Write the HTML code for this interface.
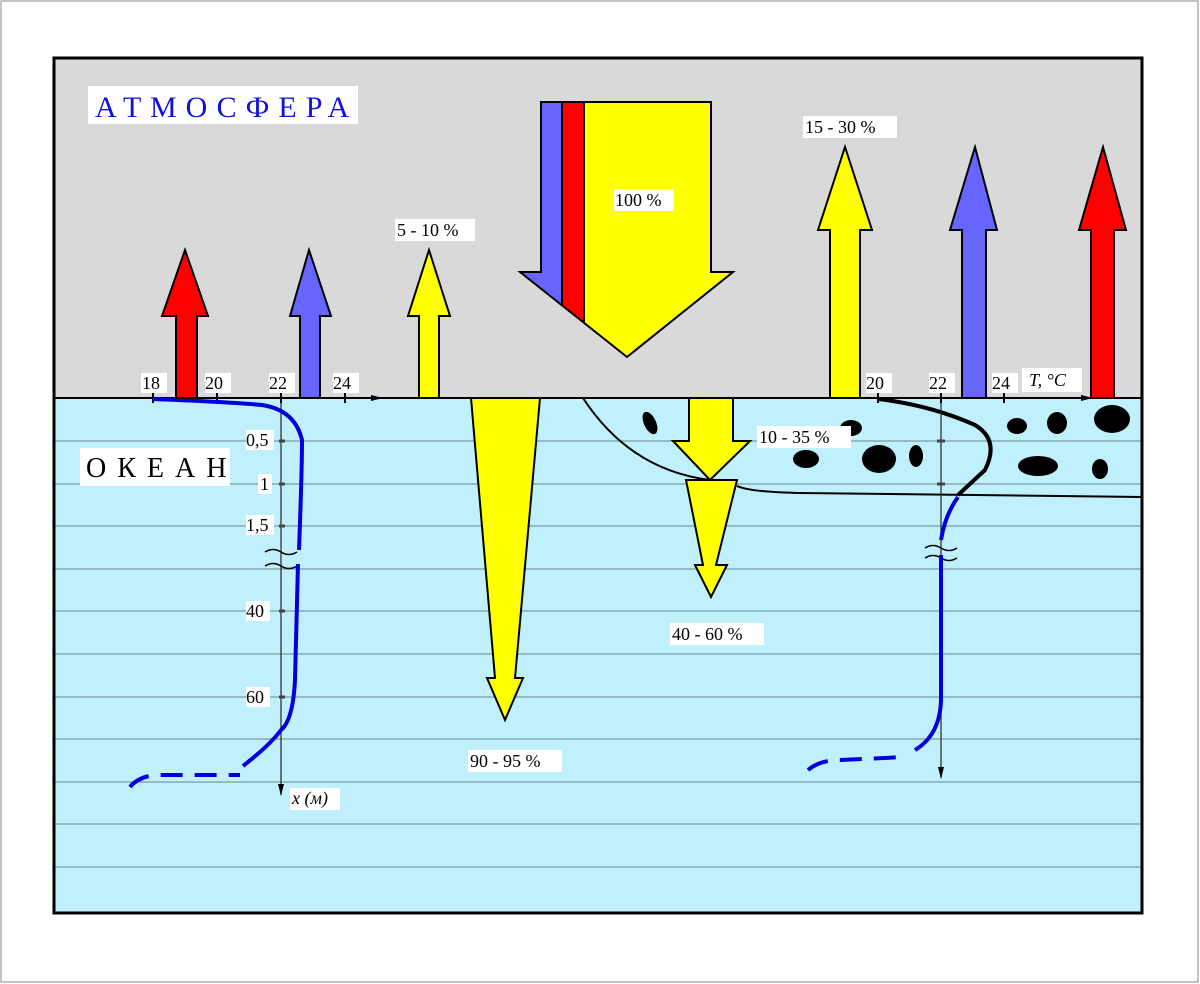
<!DOCTYPE html>
<html><head><meta charset="utf-8"><style>
html,body{margin:0;padding:0;background:#fff;}
svg{display:block;}
text{font-family:"Liberation Serif",serif;}
</style></head><body>
<svg width="1200" height="984" viewBox="0 0 1200 984" xmlns="http://www.w3.org/2000/svg">
<defs>
<clipPath id="bigArrow"><polygon points="541,102 711,102 711,272 733,272 627,357 520,272 541,272"/></clipPath>
<marker id="ah" markerWidth="12" markerHeight="8" refX="11" refY="4" orient="auto" markerUnits="userSpaceOnUse"><polygon points="0,1 12,4 0,7" fill="#000"/></marker>
</defs>
<rect x="1" y="1" width="1197" height="981" fill="#fff" stroke="#888" stroke-width="1"/>
<rect x="54" y="58" width="1088" height="340" fill="#d9d9d9"/>
<rect x="54" y="398" width="1088" height="515" fill="#bff0fb"/>
<g stroke="#7a9aa0" stroke-width="1.3">
<line x1="54" y1="441" x2="1142" y2="441"/><line x1="54" y1="484" x2="1142" y2="484"/>
<line x1="54" y1="526" x2="1142" y2="526"/><line x1="54" y1="569" x2="1142" y2="569"/>
<line x1="54" y1="611" x2="1142" y2="611"/><line x1="54" y1="654" x2="1142" y2="654"/>
<line x1="54" y1="697" x2="1142" y2="697"/><line x1="54" y1="739" x2="1142" y2="739"/>
<line x1="54" y1="782" x2="1142" y2="782"/><line x1="54" y1="824" x2="1142" y2="824"/>
<line x1="54" y1="867" x2="1142" y2="867"/>
</g>
<line x1="54" y1="398" x2="1142" y2="398" stroke="#000" stroke-width="2"/>

<g fill="#000">
<ellipse cx="650" cy="423" rx="6" ry="12" transform="rotate(-25 650 423)"/>
<ellipse cx="806" cy="459" rx="13" ry="9"/>
<ellipse cx="851" cy="428" rx="11" ry="8"/>
<ellipse cx="879" cy="459" rx="17" ry="14"/>
<ellipse cx="916" cy="456" rx="7" ry="11"/>
<ellipse cx="1017" cy="426" rx="10" ry="8"/>
<ellipse cx="1057" cy="423" rx="10" ry="11"/>
<ellipse cx="1112" cy="419" rx="18" ry="14"/>
<ellipse cx="1038" cy="466" rx="20" ry="10"/>
<ellipse cx="1100" cy="469" rx="8" ry="10"/>
</g>

<path d="M583,398 Q630,470 710,480" fill="none" stroke="#000" stroke-width="2"/>
<path d="M737,486 Q750,492 800,493 L1142,497" fill="none" stroke="#000" stroke-width="2"/>
<path d="M878,399 Q930,405 975,425 Q1000,440 985,470 Q972,482 958,495" fill="none" stroke="#000" stroke-width="4"/>

<line x1="153" y1="398" x2="382" y2="398" stroke="#000" stroke-width="1.5" marker-end="url(#ah)"/>
<line x1="878" y1="398" x2="1092" y2="398" stroke="#000" stroke-width="1.5" marker-end="url(#ah)"/>
<line x1="281" y1="398" x2="281" y2="795" stroke="#333" stroke-width="1.3" marker-end="url(#ah)"/>
<line x1="941" y1="398" x2="941" y2="778" stroke="#333" stroke-width="1.3" marker-end="url(#ah)"/>
<g stroke="#000" stroke-width="2">
<line x1="153" y1="393" x2="153" y2="403"/><line x1="217" y1="393" x2="217" y2="403"/>
<line x1="281" y1="393" x2="281" y2="403"/><line x1="345" y1="393" x2="345" y2="403"/>
<line x1="878" y1="393" x2="878" y2="403"/><line x1="941" y1="393" x2="941" y2="403"/><line x1="1004" y1="393" x2="1004" y2="403"/>
</g>
<g stroke="#444" stroke-width="3">
<line x1="279" y1="441" x2="285" y2="441"/><line x1="279" y1="484" x2="285" y2="484"/><line x1="279" y1="526" x2="285" y2="526"/>
<line x1="279" y1="611" x2="285" y2="611"/><line x1="279" y1="697" x2="285" y2="697"/>
<line x1="937" y1="441" x2="945" y2="441"/><line x1="937" y1="484" x2="945" y2="484"/>
</g>
<g fill="none" stroke="#000" stroke-width="1.5">
<path d="M265,552 q8,-5 16,0 q8,5 16,0"/><path d="M265,566 q8,-5 16,0 q8,5 16,0"/>
<path d="M925,548 q8,-5 16,0 q8,5 16,0"/><path d="M925,558 q8,-5 16,0 q8,5 16,0"/>
</g>

<path d="M153,399 Q230,402 262,405 Q295,410 302,440 Q302,470 299,550" fill="none" stroke="#0000dd" stroke-width="4"/>
<path d="M298,564 L295,680 Q293,720 281,730 Q270,745 243,766" fill="none" stroke="#0000dd" stroke-width="4"/>
<path d="M130,787 Q140,775 160,775 L240,775" fill="none" stroke="#0000dd" stroke-width="4" stroke-dasharray="22,12"/>
<path d="M958,497 Q945,515 941,540" fill="none" stroke="#0000dd" stroke-width="4"/>
<path d="M941,555 L941,700 Q940,735 915,750" fill="none" stroke="#0000dd" stroke-width="4"/>
<path d="M808,770 Q820,760 840,760 L905,757" fill="none" stroke="#0000dd" stroke-width="4" stroke-dasharray="22,12"/>

<g stroke="#000" stroke-width="2">
<polygon points="176,398 176,316 162,316 185,250 208,316 197,316 197,398" fill="#ff0000"/>
<polygon points="300,398 300,316 290,316 309,250 331,316 320,316 320,398" fill="#6666ff"/>
<polygon points="419,398 419,316 408,316 429,250 450,316 439,316 439,398" fill="#ffff00"/>
<polygon points="830,398 830,230 818,230 845,147 872,230 860,230 860,398" fill="#ffff00"/>
<polygon points="962,398 962,230 950,230 975,147 997,230 986,230 986,398" fill="#6666ff"/>
<polygon points="1091,398 1091,230 1079,230 1103,147 1126,230 1114,230 1114,398" fill="#ff0000"/>
</g>
<g clip-path="url(#bigArrow)">
<rect x="500" y="90" width="260" height="280" fill="#ffff00"/>
<rect x="500" y="90" width="62" height="280" fill="#6666ff"/>
<rect x="562" y="90" width="22" height="280" fill="#ff0000"/>
</g>
<polygon points="541,102 711,102 711,272 733,272 627,357 520,272 541,272" fill="none" stroke="#000" stroke-width="2"/>
<line x1="562" y1="102" x2="562" y2="305" stroke="#000" stroke-width="2"/>
<line x1="584" y1="102" x2="584" y2="322" stroke="#000" stroke-width="2"/>
<g stroke="#000" stroke-width="2" fill="#ffff00">
<polygon points="471,398 540,398 515,678 523,678 505,720 487,678 495,678"/>
<polygon points="689,398 733,398 733,441 750,441 710,480 673,441 689,441"/>
<polygon points="686,480 737,480 716,565 727,565 711,597 695,565 703,565"/>
</g>

<g font-size="18" fill="#000">
<rect x="141" y="373" width="26" height="20" fill="#fff"/><text x="142" y="389">18</text>
<rect x="205" y="373" width="26" height="20" fill="#fff"/><text x="205" y="389">20</text>
<rect x="269" y="373" width="26" height="20" fill="#fff"/><text x="269" y="389">22</text>
<rect x="333" y="373" width="26" height="20" fill="#fff"/><text x="333" y="389">24</text>
<rect x="866" y="373" width="26" height="20" fill="#fff"/><text x="866" y="389">20</text>
<rect x="929" y="373" width="26" height="20" fill="#fff"/><text x="929" y="389">22</text>
<rect x="992" y="373" width="26" height="20" fill="#fff"/><text x="992" y="389">24</text>
<rect x="1022" y="368" width="60" height="24" fill="#fff"/><text x="1029" y="386" font-style="italic">T, °C</text>
<rect x="246" y="430" width="28" height="20" fill="#fff"/><text x="246" y="446">0,5</text>
<rect x="258" y="474" width="14" height="20" fill="#fff"/><text x="260" y="490">1</text>
<rect x="246" y="515" width="28" height="20" fill="#fff"/><text x="246" y="531">1,5</text>
<rect x="246" y="601" width="24" height="20" fill="#fff"/><text x="246" y="617">40</text>
<rect x="246" y="687" width="24" height="20" fill="#fff"/><text x="246" y="703">60</text>
<rect x="290" y="788" width="50" height="22" fill="#fff"/><text x="292" y="804" font-style="italic">x (м)</text>
<rect x="395" y="219" width="80" height="22" fill="#fff"/><text x="397" y="236">5 - 10 %</text>
<rect x="614" y="189" width="60" height="22" fill="#fff"/><text x="615" y="206">100 %</text>
<rect x="803" y="116" width="94" height="22" fill="#fff"/><text x="805" y="133">15 - 30 %</text>
<rect x="757" y="426" width="94" height="22" fill="#fff"/><text x="759" y="443">10 - 35 %</text>
<rect x="670" y="623" width="94" height="22" fill="#fff"/><text x="672" y="640">40 - 60 %</text>
<rect x="468" y="750" width="94" height="22" fill="#fff"/><text x="470" y="767">90 - 95 %</text>
</g>
<rect x="88" y="86" width="270" height="38" fill="#fff"/>
<text x="95" y="117" font-size="30" fill="#1010dd" letter-spacing="9">АТМОСФЕРА</text>
<rect x="80" y="448" width="150" height="38" fill="#fff"/>
<text x="86" y="477" font-size="28" fill="#000" letter-spacing="11">ОКЕАН</text>

<rect x="54" y="58" width="1088" height="855" fill="none" stroke="#000" stroke-width="3"/>
</svg>
</body></html>
